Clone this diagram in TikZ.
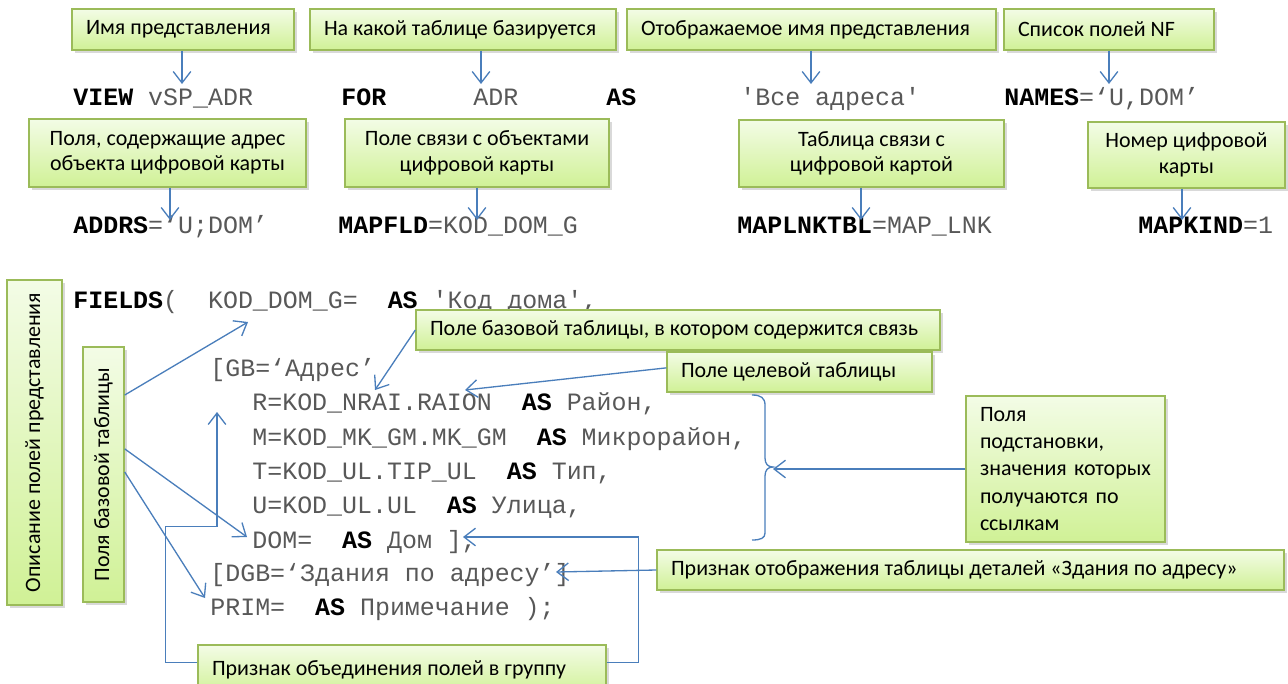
\documentclass[tikz,border=0pt]{standalone}
\usepackage{fontspec}
\usepackage{graphicx}
\setmainfont{Carlito}
\setmonofont{Liberation Mono}
\usetikzlibrary{arrows.meta}
\usetikzlibrary{shadows}
\usetikzlibrary{calc}

\definecolor{lineblue}{RGB}{74,126,187}
\definecolor{noteborder}{RGB}{155,187,89}
\definecolor{notetop}{RGB}{243,252,230}
\definecolor{notebottom}{RGB}{208,241,150}
\definecolor{codegray}{RGB}{88,88,88}

\newcommand{\kw}[1]{\textbf{\color{black}#1}}

\tikzset{
  note/.style={draw=noteborder, line width=0.8pt, top color=notetop, bottom color=notebottom,
    drop shadow={shadow xshift=1.5pt, shadow yshift=-1.5pt, opacity=0.3},
    font=\fontsize{12.5}{14.5}\selectfont, inner xsep=0.28cm, inner ysep=0pt},
  code/.style={anchor=base west, inner sep=0pt, text=codegray,
    font=\ttfamily\fontsize{14.2}{17}\selectfont},
  link/.style={draw=lineblue, line width=0.75pt, -{Straight Barb[length=6.5pt,width=10pt]}}
}

\begin{document}
\begin{tikzpicture}[x=0.02cm,y=-0.02cm]
\useasboundingbox (0,0) rectangle (1288,683);

% first row of notes
\node[note, minimum height=0.82cm] (nmView) at (183,29.5) {\makebox[3.88cm][l]{Имя представления}};
\node[note, minimum height=0.82cm] (nmBase) at (463,29.5) {\makebox[5.56cm][l]{На какой таблице базируется}};
\node[note, minimum height=0.82cm] (nmTitle) at (811.5,29.5) {\makebox[6.82cm][l]{Отображаемое имя представления}};
\node[note, minimum height=0.82cm] (nmNames) at (1109,29.5) {\makebox[3.64cm][l]{Список полей NF}};

% VIEW line
\node[code] (cView) at (73,105) {\kw{VIEW} vSP\_ADR};
\node[code] (cFor) at (341,105) {\kw{FOR}};
\node[code] (cAdr) at (473,105) {ADR};
\node[code] (cAs) at (606,105) {\kw{AS}};
\node[code] (cTitle) at (740,105) {'Все адреса'};
\node[code] (cNames) at (1004,105) {\kw{NAMES}=‘U,DOM’};

\coordinate (tView) at (182,84);
\coordinate (tBase) at (481,84);
\coordinate (tTitle) at (811,84);
\coordinate (tNames) at (1109,84);
\draw[link] (nmView.south -| tView) -- (tView);
\draw[link] (nmBase.south -| tBase) -- (tBase);
\draw[link] (nmTitle.south -| tTitle) -- (tTitle);
\draw[link] (nmNames.south -| tNames) -- (tNames);

% second row of notes
\node[note, minimum width=5.54cm, minimum height=1.36cm, align=center] (nmAddr) at (167.5,153) {Поля, содержащие адрес\\объекта цифровой карты};
\node[note, minimum width=5.28cm, minimum height=1.36cm, align=center] (nmFld) at (477,153) {Поле связи с объектами\\цифровой карты};
\node[note, minimum width=5.3cm, minimum height=1.34cm, align=center] (nmLnk) at (871.5,153.5) {Таблица связи с\\цифровой картой};
\node[note, minimum width=3.94cm, minimum height=1.32cm, align=center] (nmKind) at (1186.5,155) {Номер цифровой\\карты};

\node[code] (cAddrs) at (73,233) {\kw{ADDRS}=‘U;DOM’};
\node[code] (cMapFld) at (338,233) {\kw{MAPFLD}=KOD\_DOM\_G};
\node[code] (cMapLnk) at (737,233) {\kw{MAPLNKTBL}=MAP\_LNK};
\node[code] (cMapKind) at (1138,233) {\kw{MAPKIND}=1};

\coordinate (tAddr) at (170,220);
\coordinate (tFld) at (477,220);
\coordinate (tLnk) at (861,220);
\coordinate (tKind) at (1182,220);
\draw[link] (nmAddr.south -| tAddr) -- (tAddr);
\draw[link] (nmFld.south -| tFld) -- (tFld);
\draw[link] (nmLnk.south -| tLnk) -- (tLnk);
\draw[link] (nmKind.south -| tKind) -- (tKind);

% FIELDS block
\node[code] (cFields) at (73,308) {\kw{FIELDS}(~~KOD\_DOM\_G=~~\kw{AS}~'Код~дома',};
\node[code] (cGB) at (210,376) {[GB=‘Адрес’};
\node[code] (cR) at (252,410) {R=KOD\_NRAI.RAION~~\kw{AS}~Район,};
\node[code] (cM) at (252,445) {M=KOD\_MK\_GM.MK\_GM~~\kw{AS}~Микрорайон,};
\node[code] (cT) at (252,479) {T=KOD\_UL.TIP\_UL~~\kw{AS}~Тип,};
\node[code] (cU) at (252,513) {U=KOD\_UL.UL~~\kw{AS}~Улица,};
\node[code] (cDom) at (252,548) {DOM=~~\kw{AS}~Дом~],};
\node[code] (cDGB) at (210,581) {[DGB=‘Здания~по~адресу’]};
\node[code] (cPrim) at (210,615) {PRIM=~~\kw{AS}~Примечание~);};

% side notes
\node[note, minimum width=1.1cm, minimum height=6.5cm, inner xsep=0pt] (nmDescr) at (34.5,442.5) {\rotatebox{90}{Описание полей представления}};
\node[note, minimum width=0.82cm, minimum height=5.1cm, inner xsep=0pt] (nmBaseFld) at (103.5,474.5) {\rotatebox{90}{Поля базовой таблицы}};

\node[note, minimum height=0.8cm] (nmLinkFld) at (678,330) {\makebox[9.92cm][l]{Поле базовой таблицы, в котором содержится связь}};
\node[note, minimum height=0.8cm] (nmTarget) at (799.5,372) {\makebox[4.74cm][l]{Поле целевой таблицы}};
\node[note, text width=3.42cm, minimum height=2.92cm, align=left, font=\fontsize{12.5}{15.5}\selectfont] (nmSubst) at (1065.5,469) {Поля\\подстановки,\\значения которых\\получаются по\\ссылкам};
\node[note, minimum height=0.8cm] (nmDetail) at (970.5,570) {\makebox[11.98cm][l]{Признак отображения таблицы деталей «Здания по адресу»}};
\node[note, minimum height=1.0cm] (nmGroup) at (402,670) {\makebox[7.6cm][l]{Признак объединения полей в группу}};

% arrows of the FIELDS block
\coordinate (tKod) at (248,322);
\coordinate (tDom) at (247,537);
\coordinate (tPrim) at (205,598);
\draw[link] ($(nmBaseFld.north east)!0.19!(nmBaseFld.south east)$) -- (tKod);
\draw[link] ($(nmBaseFld.north east)!0.40!(nmBaseFld.south east)$) -- (tDom);
\draw[link] ($(nmBaseFld.north east)!0.49!(nmBaseFld.south east)$) -- (tPrim);

\coordinate (tLinkFld) at (375,390);
\coordinate (tTarget) at (465,390);
\draw[link] (nmLinkFld.west) -- (tLinkFld);
\draw[link] ($(nmTarget.north west)!0.4!(nmTarget.south west)$) -- (tTarget);

% brace of the substituted fields
\coordinate (brTip) at (773,467);
\draw[lineblue, line width=0.75pt] (752,395) .. controls (761,395) and (765,398) .. (765,405) -- (765,458)
  .. controls (765,464) and (768,467) .. (brTip) .. controls (768,467) and (765,470) .. (765,476)
  -- (765,533) .. controls (765,538) and (761,540) .. (752,540);
\draw[link] (nmSubst.west) -- (nmSubst.west -| brTip);

\coordinate (tDetail) at (556,572);
\draw[link] (nmDetail.west) -- (tDetail);

\coordinate (tGroupA) at (217,412);
\coordinate (tGroupB) at (463,537);
\draw[link] ($(nmGroup.north west)!0.36!(nmGroup.south west)$) -- ++(-32,0) -- ++(0,-136) -| (tGroupA);
\draw[link] ($(nmGroup.north east)!0.36!(nmGroup.south east)$) -- ++(32,0) |- (tGroupB);
\end{tikzpicture}
\end{document}
